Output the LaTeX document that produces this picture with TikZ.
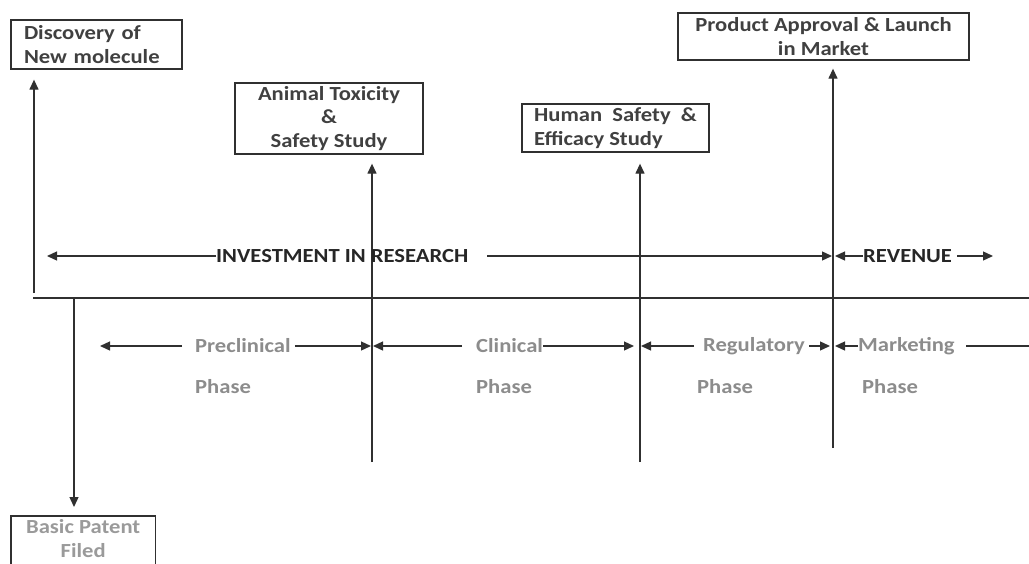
\documentclass[tikz,border=0pt]{standalone}
\usepackage{fontspec}
\setmainfont{Carlito}[FakeStretch=1.13]
\usetikzlibrary{arrows.meta}
\definecolor{boxtxt}{HTML}{404040}
\definecolor{phasetxt}{HTML}{8C8C8C}
\definecolor{pattxt}{HTML}{9A9A9A}
\definecolor{linec}{HTML}{303030}
\tikzset{
  every node/.style={font=\fontsize{20}{23.5}\selectfont\bfseries, inner sep=0pt},
  box/.style={draw=linec, line width=1.3pt, text=boxtxt, align=center},
  ln/.style={draw=linec, line width=1.3pt},
  arr/.style={ln, -{Triangle[length=10pt,width=9pt]}},
  phase/.style={text=phasetxt, anchor=west},
  head/.style={text=black!85, anchor=west}
}
\begin{document}
\begin{tikzpicture}[x=1pt,y=-1pt]
\useasboundingbox (0,0) rectangle (1029,563);
% boxes
\node[box, minimum width=171pt, minimum height=49pt, align=left, text width=145pt] (disc) at (96.5,44.5) {Discovery of\\New molecule};
\node[box, minimum width=188pt, minimum height=71pt] (anim) at (329,118.5) {Animal Toxicity\\\&\\Safety Study};
\node[box, minimum width=187pt, minimum height=48pt, align=left] (hum) at (615.5,128) {Human\ \ Safety\ \ \&\\Efficacy Study};
\node[box, minimum width=291pt, minimum height=47pt] (prod) at (823.5,36.5) {Product Approval \& Launch\\in Market};
\node[text=pattxt, align=center, minimum width=144pt, minimum height=45pt, anchor=north west] (pat) at (11,516) {Basic Patent\\Filed};
\draw[ln] (pat.north west) rectangle ([yshift=-20pt]pat.south east);
% main horizontal line
\coordinate (hl) at (33,298);
\coordinate (hr) at (1029,298);
\draw[ln] (hl) -- (hr);
% vertical connectors
\coordinate (v1) at (34,293);
\draw[arr, shorten >=10pt] (v1) -- (v1 |- disc.south);
\coordinate (v2) at (74,298);
\draw[arr, shorten >=9pt] (v2) -- (v2 |- pat.north);
\coordinate (v3) at (372,462);
\draw[arr, shorten >=9pt] (v3) -- (v3 |- anim.south);
\coordinate (v4) at (640,462);
\draw[arr, shorten >=11pt] (v4) -- (v4 |- hum.south);
\coordinate (v5) at (833,448);
\draw[arr, shorten >=8pt] (v5) -- (v5 |- prod.south);
% investment row
\node[head] (inv) at (216,256) {INVESTMENT IN RESEARCH};
\node[head] (rev) at (863,256) {REVENUE};
\coordinate (invL) at (47,256);
\coordinate (invR0) at (487,256);
\coordinate (invR) at (832,256);
\coordinate (revL) at (835,256);
\coordinate (revR) at (993,256);
\draw[arr] (inv.west) -- (invL);
\draw[arr] (invR0) -- (invR);
\draw[arr] (rev.west) -- (revL);
\draw[arr] ([xshift=5pt]rev.east) -- (revR);
% phase row
\node[phase] (pre) at (195,346) {Preclinical};
\node[phase] (cli) at (476,346) {Clinical};
\node[phase] (reg) at (703,346) {Regulatory};
\node[phase] (mar) at (858,346) {Marketing};
\node[phase] (p1) at (195,387) {Phase};
\node[phase] (p2) at (476,387) {Phase};
\node[phase] (p3) at (697,387) {Phase};
\node[phase] (p4) at (862,387) {Phase};
\coordinate (a1) at (100,346);
\coordinate (a1b) at (182,346);
\coordinate (a2) at (371,346);
\coordinate (b1) at (373,346);
\coordinate (b1b) at (462,346);
\coordinate (b2) at (634,346);
\coordinate (c1) at (641,346);
\coordinate (c1b) at (694,346);
\coordinate (c2) at (830,346);
\coordinate (d1) at (835,346);
\coordinate (d2) at (1029,346);
\coordinate (d2b) at (966,346);
\draw[arr] (a1b) -- (a1);
\draw[arr] ([xshift=4pt]pre.east) -- (a2);
\draw[arr] (b1b) -- (b1);
\draw[arr] (cli.east) -- (b2);
\draw[arr] (c1b) -- (c1);
\draw[arr] ([xshift=4pt]reg.east) -- (c2);
\draw[arr] (mar.west) -- (d1);
\draw[ln] (d2b) -- (d2);
\end{tikzpicture}
\end{document}
